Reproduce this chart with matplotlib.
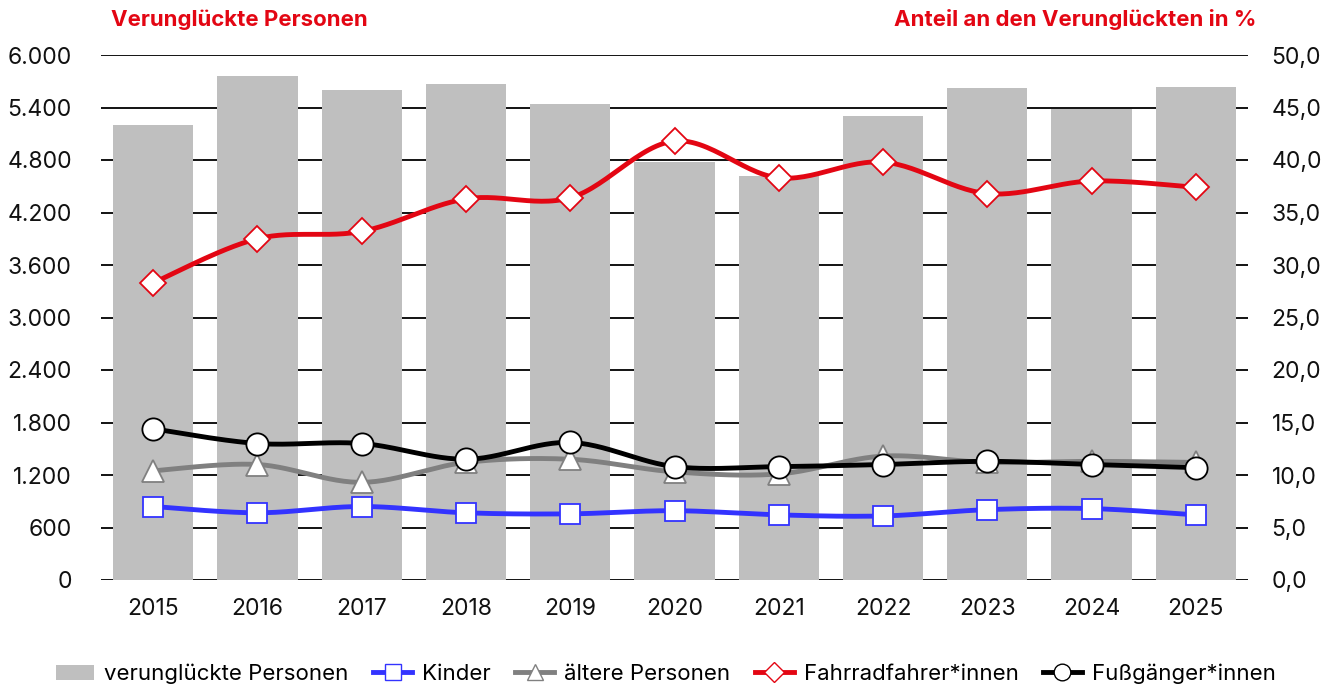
import numpy as np
import matplotlib
matplotlib.use("Agg")
import matplotlib.pyplot as plt
from matplotlib.lines import Line2D
from matplotlib.patches import Patch

plt.rcParams['font.family'] = ['Inter', 'DejaVu Sans']

years = ['2015', '2016', '2017', '2018', '2019', '2020', '2021', '2022', '2023', '2024', '2025']
verunglueckte = [5200, 5760, 5600, 5670, 5440, 4780, 4620, 5300, 5620, 5380, 5635]
kinder = [7.0, 6.4, 7.0, 6.4, 6.3, 6.6, 6.2, 6.1, 6.7, 6.8, 6.2]
aeltere = [10.4, 11.0, 9.3, 11.2, 11.5, 10.3, 10.1, 11.8, 11.2, 11.3, 11.2]
fahrrad = [28.3, 32.5, 33.2, 36.3, 36.4, 41.8, 38.3, 39.8, 36.8, 38.0, 37.4]
fussgaenger = [14.4, 13.0, 13.0, 11.5, 13.1, 10.8, 10.8, 11.0, 11.3, 11.0, 10.7]

left_ticks = [0, 600, 1200, 1800, 2400, 3000, 3600, 4200, 4800, 5400, 6000]
right_ticks = [0, 5, 10, 15, 20, 25, 30, 35, 40, 45, 50]

RED = '#e30613'
BLUE = '#3333ff'
GREY = '#808080'
BARGREY = '#bfbfbf'


def smooth(x, y, n=30):
    x = np.asarray(x, float)
    y = np.asarray(y, float)
    px = np.concatenate([[x[0]], x, [x[-1]]])
    py = np.concatenate([[y[0]], y, [y[-1]]])
    xs, ys = [], []
    t = np.linspace(0, 1, n)
    for i in range(1, len(px) - 2):
        p0x, p1x, p2x, p3x = px[i - 1], px[i], px[i + 1], px[i + 2]
        p0y, p1y, p2y, p3y = py[i - 1], py[i], py[i + 1], py[i + 2]
        c1x = p1x + (p2x - p0x) / 6
        c1y = p1y + (p2y - p0y) / 6
        c2x = p2x - (p3x - p1x) / 6
        c2y = p2y - (p3y - p1y) / 6
        bx = (1 - t) ** 3 * p1x + 3 * (1 - t) ** 2 * t * c1x + 3 * (1 - t) * t ** 2 * c2x + t ** 3 * p2x
        by = (1 - t) ** 3 * p1y + 3 * (1 - t) ** 2 * t * c1y + 3 * (1 - t) * t ** 2 * c2y + t ** 3 * p2y
        xs.extend(bx)
        ys.extend(by)
    return np.array(xs), np.array(ys)


fig = plt.figure(figsize=(13.38, 6.87), dpi=100)
ax = fig.add_axes([101 / 1338, 107 / 687, 1147 / 1338, 525 / 687])
ax2 = ax.twinx()

x = np.arange(len(years))
ax.set_ylim(0, 6000)
ax.set_xlim(-0.5, len(years) - 0.5)
ax.set_yticks(left_ticks)
ax.set_yticklabels([f"{v:,}".replace(',', '.') for v in left_ticks])
for v in left_ticks:
    ax.axhline(v, color='black', lw=1.3, zorder=0)
ax.bar(x, verunglueckte, width=0.77, color=BARGREY, zorder=1)
ax.set_xticks(x)
ax.set_xticklabels(years)

ax2.set_ylim(0, 50)
ax2.set_yticks(right_ticks)
ax2.set_yticklabels([f"{v:.1f}".replace('.', ',') for v in right_ticks])

for a in (ax, ax2):
    for s in a.spines.values():
        s.set_visible(False)
    a.tick_params(length=0, labelsize=16.5, colors='#111111')
ax.tick_params(axis='y', pad=21)
ax2.tick_params(axis='y', pad=17)
ax.tick_params(axis='x', pad=13)

series = [
    (kinder, BLUE, 's', 14, BLUE),
    (aeltere, GREY, '^', 16, GREY),
    (fahrrad, RED, 'D', 13, RED),
    (fussgaenger, 'black', 'o', 16, 'black'),
]
z = 3
for vals, col, mk, ms, ec in series:
    sx, sy = smooth(x, vals)
    ax2.plot(sx, sy, color=col, lw=3.5, zorder=z, solid_capstyle='round')
    ax2.plot(x, vals, ls='none', marker=mk, ms=ms, mfc='white', mec=ec, mew=1.3, zorder=z + 0.5)
    z += 1

fig.text(111 / 1338, 1 - 20 / 687, 'Verunglückte Personen', color=RED, fontsize=16,
         fontweight='bold', ha='left', va='center')
fig.text(1256 / 1338, 1 - 20 / 687, 'Anteil an den Verunglückten in %', color=RED, fontsize=16,
         fontweight='bold', ha='right', va='center')

handles = [
    Patch(facecolor=BARGREY, edgecolor='none'),
    Line2D([], [], color=BLUE, lw=3.5, marker='s', ms=11, mfc='white', mec=BLUE),
    Line2D([], [], color=GREY, lw=3.5, marker='^', ms=12, mfc='white', mec=GREY),
    Line2D([], [], color=RED, lw=3.5, marker='D', ms=10, mfc='white', mec=RED),
    Line2D([], [], color='black', lw=3.5, marker='o', ms=12, mfc='white', mec='black'),
]
labels = ['verunglückte Personen', 'Kinder', 'ältere Personen', 'Fahrradfahrer*innen', 'Fußgänger*innen']
fig.legend(handles, labels, loc='center', bbox_to_anchor=(0.4975, 1 - 674 / 687), ncol=5,
           frameon=False, fontsize=16, handlelength=1.75, columnspacing=1.1, handletextpad=0.45)

fig.savefig('out.png', dpi=100)
